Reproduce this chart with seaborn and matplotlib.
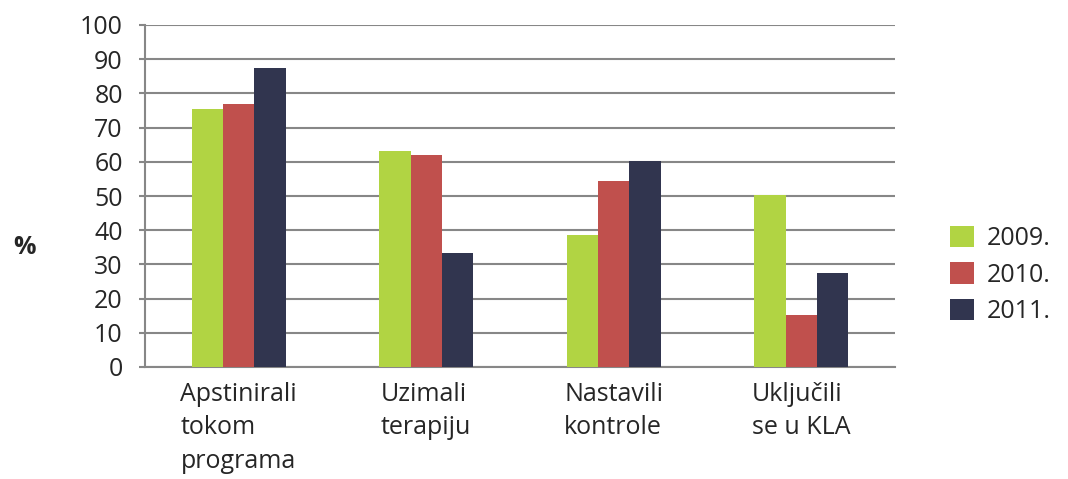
import pandas as pd
import matplotlib.pyplot as plt
import seaborn as sns
from matplotlib.patches import Patch

categories = ["Apstinirali\ntokom\nprograma", "Uzimali\nterapiju", "Nastavili\nkontrole", "Uključili\nse u KLA"]
years = ["2009.", "2010.", "2011."]
v2009 = [75.4, 63.2, 38.6, 50.4]
v2010 = [76.9, 62.0, 54.3, 15.2]
v2011 = [87.4, 33.3, 60.3, 27.4]
colors = ["#b1d443", "#c0504d", "#31354f"]

df = pd.DataFrame({
    "category": categories * 3,
    "year": [years[0]] * 4 + [years[1]] * 4 + [years[2]] * 4,
    "value": v2009 + v2010 + v2011,
})

sns.set_style("white")
plt.rcParams["font.family"] = ["Open Sans", "DejaVu Sans"]

fig = plt.figure(figsize=(10.68, 4.79), dpi=100)
ax = fig.add_axes([145 / 1068, 1 - 367 / 479, 750 / 1068, 342 / 479])

sns.barplot(data=df, x="category", y="value", hue="year", palette=colors,
            width=0.5, gap=0, saturation=1, linewidth=0, ax=ax, legend=False, zorder=3)

ax.set_ylim(0, 100)
ax.set_xlim(-0.5, 3.5)
ax.set_yticks(range(0, 101, 10))
ax.grid(axis="y", color="#878787", linewidth=1.5, zorder=0)
ax.set_axisbelow(True)
ax.set_xlabel("")
ax.set_ylabel("")

for s in ["top", "right"]:
    ax.spines[s].set_visible(False)
for s in ["left", "bottom"]:
    ax.spines[s].set_color("#878787")
    ax.spines[s].set_linewidth(1.5)

ax.tick_params(axis="y", which="both", left=True, length=4, width=1.5,
               color="#878787", labelsize=18, pad=12)
ax.tick_params(axis="x", bottom=False, labelsize=18, pad=7)
for lbl in ax.get_xticklabels():
    lbl.set_multialignment("left")
    lbl.set_linespacing(1.45)
    lbl.set_verticalalignment("top")

fig.text(25 / 1068, 1 - 248 / 479, "%", fontsize=18, fontweight="bold",
         ha="center", va="center")

handles = [Patch(facecolor=c, edgecolor="none") for c in colors]
fig.legend(handles, years, loc="center left", bbox_to_anchor=(950 / 1068, 1 - 275 / 479),
           frameon=False, fontsize=18, handlelength=0.95, handleheight=0.95,
           handletextpad=0.5, labelspacing=0.45, borderpad=0, borderaxespad=0)

plt.savefig("out.png", dpi=100)
